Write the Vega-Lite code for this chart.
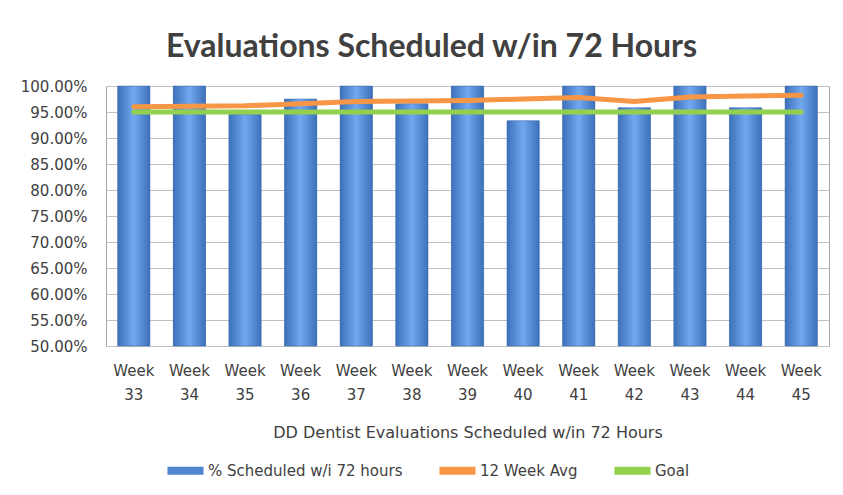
{
  "$schema": "https://vega.github.io/schema/vega-lite/v6.json",
  "width": 723,
  "height": 260,
  "autosize": {"type": "none"},
  "padding": {"left": 106, "top": 86, "right": 14, "bottom": 149},
  "background": "white",
  "title": {
    "text": "Evaluations Scheduled w/in 72 Hours",
    "font": "Lato",
    "fontSize": 32,
    "fontWeight": "bold",
    "color": "#404040",
    "anchor": "middle",
    "dx": -36,
    "offset": 15
  },
  "config": {
    "view": {"stroke": "#a6a6a6", "strokeWidth": 1}
  },
  "data": {
    "values": [
      {"week": "Week 33", "pct": 1.0, "avg": 0.960, "goal": 0.95},
      {"week": "Week 34", "pct": 1.0, "avg": 0.961, "goal": 0.95},
      {"week": "Week 35", "pct": 0.945, "avg": 0.962, "goal": 0.95},
      {"week": "Week 36", "pct": 0.975, "avg": 0.966, "goal": 0.95},
      {"week": "Week 37", "pct": 1.0, "avg": 0.970, "goal": 0.95},
      {"week": "Week 38", "pct": 0.966, "avg": 0.971, "goal": 0.95},
      {"week": "Week 39", "pct": 1.0, "avg": 0.972, "goal": 0.95},
      {"week": "Week 40", "pct": 0.933, "avg": 0.975, "goal": 0.95},
      {"week": "Week 41", "pct": 1.0, "avg": 0.978, "goal": 0.95},
      {"week": "Week 42", "pct": 0.958, "avg": 0.970, "goal": 0.95},
      {"week": "Week 43", "pct": 1.0, "avg": 0.979, "goal": 0.95},
      {"week": "Week 44", "pct": 0.958, "avg": 0.981, "goal": 0.95},
      {"week": "Week 45", "pct": 1.0, "avg": 0.982, "goal": 0.95}
    ]
  },
  "encoding": {
    "x": {
      "field": "week",
      "type": "nominal",
      "sort": null,
      "scale": {"paddingInner": 0.42, "paddingOuter": 0.21},
      "axis": {
        "labelExpr": "split(datum.label, ' ')",
        "labelAngle": 0,
        "labelFont": "DejaVu Sans",
        "labelFontSize": 15,
        "labelLineHeight": 24,
        "labelColor": "#404040",
        "labelPadding": 17,
        "labelOverlap": false,
        "ticks": false,
        "domain": false,
        "title": "DD Dentist Evaluations Scheduled w/in 72 Hours",
        "titleFont": "DejaVu Sans",
        "titleFontSize": 16,
        "titleFontWeight": "normal",
        "titleColor": "#404040",
        "titlePadding": 22
      }
    },
    "y": {
      "field": "pct",
      "type": "quantitative",
      "scale": {"domain": [0.5, 1.0], "nice": false, "zero": false},
      "axis": {
        "values": [0.5, 0.55, 0.6, 0.65, 0.7, 0.75, 0.8, 0.85, 0.9, 0.95, 1.0],
        "format": ".2%",
        "labelFont": "DejaVu Sans",
        "labelFontSize": 15,
        "labelColor": "#404040",
        "labelPadding": 19,
        "labelOverlap": false,
        "ticks": false,
        "domain": false,
        "grid": true,
        "gridColor": "#c0c0c0",
        "title": null
      }
    }
  },
  "layer": [
    {
      "mark": {"type": "bar"},
      "encoding": {
        "y2": {"datum": 0.5},
        "color": {
          "datum": "% Scheduled w/i 72 hours",
          "scale": {
            "domain": ["% Scheduled w/i 72 hours", "12 Week Avg", "Goal"],
            "range": ["#4f86d0", "#f79646", "#92d050"]
          },
          "legend": {
            "orient": "none",
            "legendX": 61,
            "legendY": 366,
            "direction": "horizontal",
            "title": null,
            "symbolType": "M-1,-0.22H1V0.22H-1Z",
            "symbolSize": 1300,
            "symbolStrokeWidth": 0,
            "labelFont": "DejaVu Sans",
            "labelFontSize": 15,
            "labelColor": "#404040",
            "labelOffset": 4,
            "labelLimit": 400,
            "columnPadding": 36
          }
        }
      }
    },
    {
      "mark": {
        "type": "bar",
        "fill": {
          "gradient": "linear",
          "x1": 0, "x2": 1, "y1": 0, "y2": 0,
          "stops": [
            {"offset": 0, "color": "#3d70ba"},
            {"offset": 0.5, "color": "#71a8ee"},
            {"offset": 1, "color": "#3d70ba"}
          ]
        },
        "stroke": "#3a68a8",
        "strokeWidth": 0.5
      },
      "encoding": {
        "y2": {"datum": 0.5}
      }
    },
    {
      "mark": {"type": "line", "strokeWidth": 5, "strokeCap": "round"},
      "encoding": {
        "y": {"field": "avg", "type": "quantitative"},
        "color": {"datum": "12 Week Avg"}
      }
    },
    {
      "mark": {"type": "line", "strokeWidth": 5, "strokeCap": "round"},
      "encoding": {
        "y": {"field": "goal", "type": "quantitative"},
        "color": {"datum": "Goal"}
      }
    }
  ]
}
